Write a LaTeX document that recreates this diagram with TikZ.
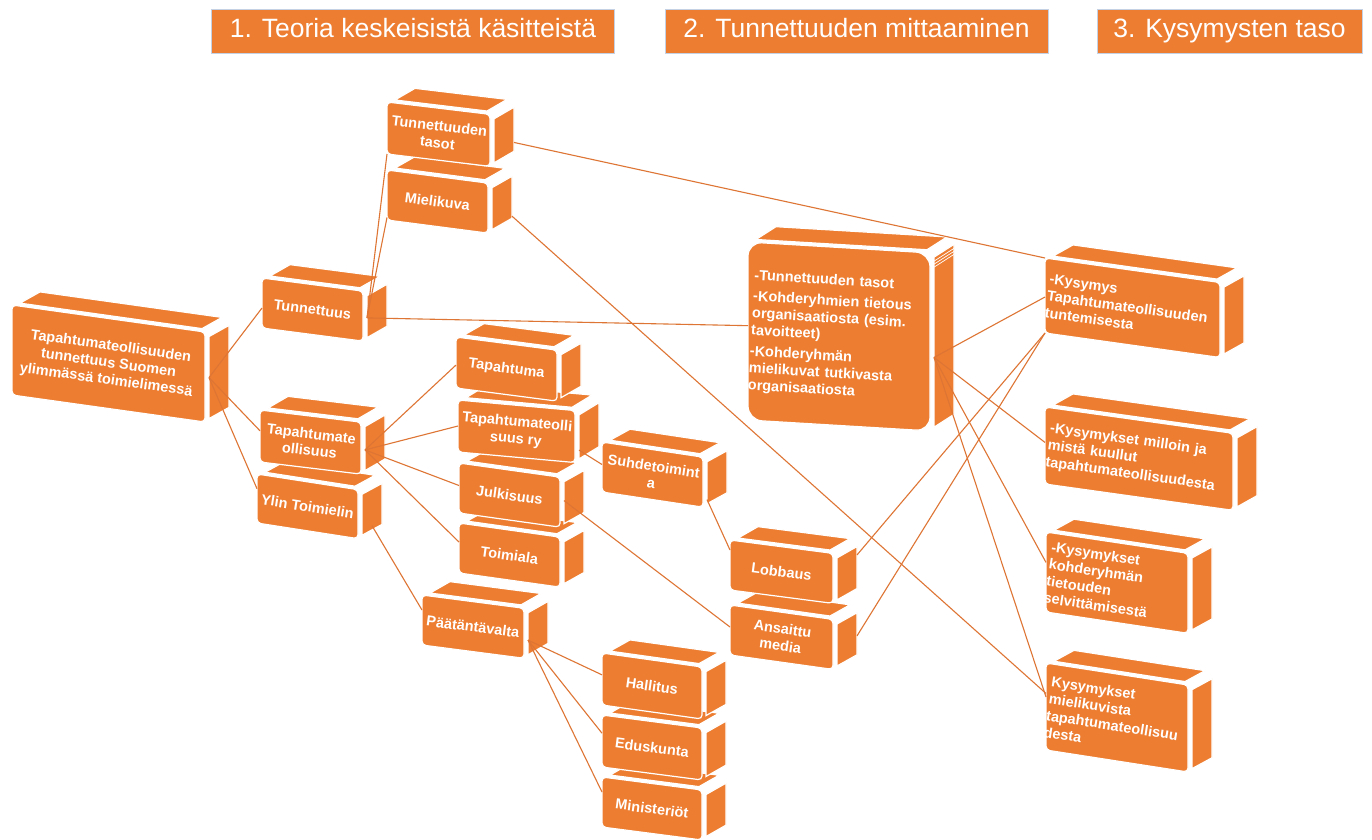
\documentclass[tikz,border=0pt]{standalone}
\usepackage{fontspec}
\setmainfont{Liberation Sans}
\usetikzlibrary{calc}
\definecolor{boxc}{RGB}{237,125,49}
\definecolor{linec}{RGB}{222,117,52}
\definecolor{hdrline}{RGB}{196,208,228}
\def\dX{20}\def\dY{-14}\def\cubeR{4pt}
\tikzset{
  boxtext/.style={text=white,font=\bfseries\fontsize{14.5}{17}\selectfont,align=center,inner sep=0pt},
  face/.style={fill=boxc,draw=white,line width=1.2pt},
  link/.style={draw=linec,line width=1.1pt},
  hdr/.style={fill=boxc,draw=hdrline,line width=0.6pt,text=white,font=\fontsize{26.5}{28}\selectfont,inner xsep=0pt,text height=19pt,text depth=6pt,inner ysep=9.5pt}
}
% #1 node opts, #2 name, #3 x, #4 y, #5 w, #6 h, #7 slant, #8 text
\newcommand\cube[8][]{%
 \begin{scope}[shift={(#3,#4)}, yslant=-#7]
  \path[face] (8,-3) -- (#5-3,-3) -- (#5-3+\dX,-3+\dY) -- (8+\dX,-3+\dY) -- cycle;
  \path[face] (#5+4,4) -- (#5+4+\dX,4+\dY) -- (#5+4+\dX,#6-4+\dY) -- (#5+4,#6-4) -- cycle;
  \path[face,rounded corners=\cubeR] (0,0) -- (#5,0) -- (#5,#6) -- (0,#6) -- cycle;
  \coordinate (#2-l0) at (0,0); \coordinate (#2-l1) at (0,#6);
  \coordinate (#2-r0) at (#5+4,4); \coordinate (#2-r1) at (#5+4,#6-4);
  \coordinate (#2-o0) at (#5+4+\dX,4+\dY); \coordinate (#2-o1) at (#5+4+\dX,#6-4+\dY);
  \coordinate (#2-m0) at (#5+4+\dX/2,4+\dY/2); \coordinate (#2-m1) at (#5+4+\dX/2,#6-4+\dY/2);
  \node[boxtext,rotate={-atan(#7)},#1] (#2) at (#5/2,#6/2) {#8};
 \end{scope}}
\newcommand\link[6]{\draw[link] ($(#1-#20)!#3!(#1-#21)$) -- ($(#4-#50)!#6!(#4-#51)$);}
\begin{document}
\begin{tikzpicture}[x=1pt,y=-1pt]
\useasboundingbox[fill=white] (0,0) rectangle (1372,839);
% headers
\node[hdr,minimum width=403pt] (h1) at (413,31) {1. Teoria keskeisistä käsitteistä};
\node[hdr,minimum width=383pt] (h2) at (856.5,31) {2. Tunnettuuden mittaaminen};
\node[hdr,minimum width=265pt] (h3) at (1229.5,31) {3. Kysymysten taso};
% boxes, lower ones first
\cube{mini}{602}{777}{100}{50}{.13}{Ministeriöt}
\cube{edus}{602}{715}{100}{52}{.13}{Eduskunta}
\cube[text width=140pt,align=left]{kys4}{1046}{663}{142}{87}{.155}{Kysymykset\\mielikuvista\\tapahtumateollisuu\\desta}
\cube{hall}{602}{653}{100}{52}{.14}{Hallitus}
\cube{ansa}{730}{605}{103}{50}{.14}{Ansaittu\\media}
\cube{paat}{422}{595}{102}{50}{.13}{Päätäntävalta}
\cube{lobb}{730}{540}{103}{50}{.13}{Lobbaus}
\cube[text width=140pt,align=left]{kys3}{1046}{532}{142}{80}{.15}{-Kysymykset\\kohderyhmän\\tietouden\\selvittämisestä}
\cube{toim}{459}{523}{101}{50}{.14}{Toimiala}
\cube{ylin}{257}{474}{101}{49}{.155}{Ylin Toimielin}
\cube{julk}{459}{463}{101}{50}{.14}{Julkisuus}
\cube{suhde}{602}{442}{101}{50}{.15}{Suhdetoimint\\a}
\cube{tind}{260}{410}{101}{52}{.12}{Tapahtumate\\ollisuus}
\cube[text width=184pt,align=left]{kys2}{1045}{407}{188}{77}{.14}{-Kysymykset milloin ja\\mistä kuullut\\tapahtumateollisuudesta}
\cube{ry}{458}{400}{117}{52}{.09}{Tapahtumateolli\\suus ry}
\cube{tapa}{456}{337}{101}{51}{.13}{Tapahtuma}
\cube{root}{12}{305}{193}{90}{.14}{Tapahtumateollisuuden\\tunnettuus Suomen\\ylimmässä toimielimessä}
\cube{tun}{262}{278}{101}{50}{.13}{Tunnettuus}
\cube[text width=172pt,align=left]{kys1}{1045}{258}{175}{75}{.14}{-Kysymys\\Tapahtumateollisuuden\\tuntemisesta}
\def\cubeR{14pt}
\cube[text width=176pt,align=left]{big}{748}{242}{182}{178}{.06}{-Tunnettuuden tasot\\[4pt]-Kohderyhmien tietous\\organisaatiosta (esim.\\tavoitteet)\\[4pt]-Kohderyhmän\\mielikuvat tutkivasta\\organisaatiosta}
\def\cubeR{4pt}
\foreach \s in {4,7,10}{\draw[white,line width=0.7pt] ($(big-r0)+(0,\s)$) -- ($(big-o0)+(0,\s)$);}
\cube{miel}{387}{170}{101}{50}{.13}{Mielikuva}
\cube{tasot}{387}{102}{103}{52}{.12}{Tunnettuuden\\tasot}
% connectors
\link{root}{r}{.5}{tun}{l}{.6}
\link{root}{r}{.5}{tind}{l}{.4}
\link{root}{r}{.5}{ylin}{l}{.3}
\link{tun}{r}{.53}{tasot}{l}{1}
\link{tun}{r}{.53}{miel}{l}{.95}
\link{tun}{r}{.53}{big}{l}{.47}
\link{tasot}{o}{.8}{kys1}{l}{0}
\link{miel}{o}{.95}{kys4}{l}{.35}
\link{tind}{r}{.53}{tapa}{l}{.55}
\link{tind}{r}{.53}{ry}{l}{.5}
\link{tind}{r}{.53}{julk}{l}{.45}
\link{tind}{r}{.53}{toim}{l}{.38}
\link{ylin}{m}{.9}{paat}{l}{.3}
\link{paat}{r}{.65}{hall}{l}{.42}
\link{paat}{r}{.65}{edus}{l}{.35}
\link{paat}{r}{.65}{mini}{l}{.3}
\link{ry}{r}{.8}{suhde}{l}{.45}
\link{suhde}{r}{.9}{lobb}{l}{.2}
\link{julk}{r}{.45}{ansa}{l}{.44}
\link{big}{r}{.59}{kys1}{l}{.52}
\link{big}{r}{.59}{kys2}{l}{.46}
\link{big}{r}{.59}{kys3}{l}{.38}
\link{big}{r}{.59}{kys4}{l}{.39}
\link{kys1}{l}{1}{lobb}{o}{.2}
\link{kys1}{l}{1}{ansa}{o}{.55}
\end{tikzpicture}
\end{document}
